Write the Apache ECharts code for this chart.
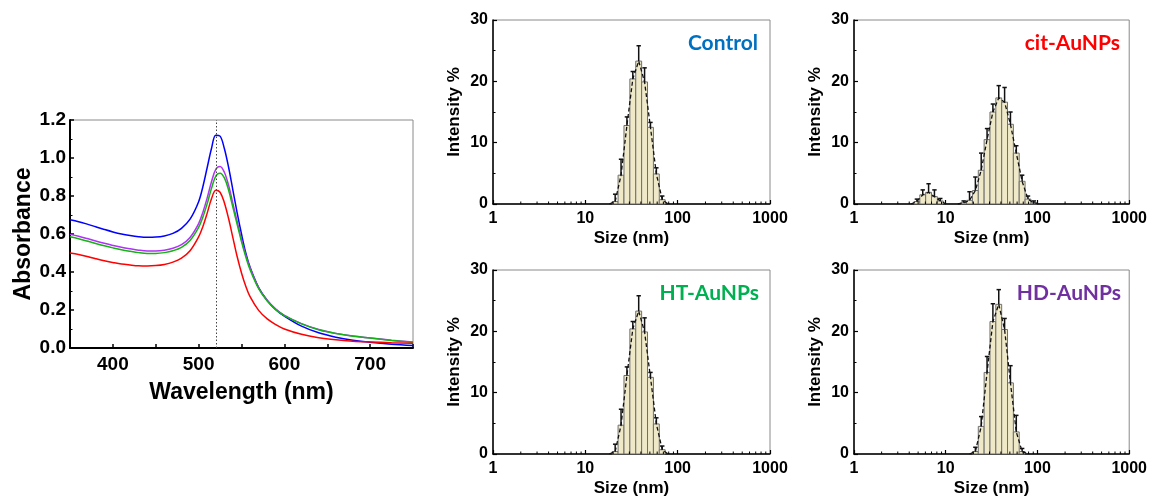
<!DOCTYPE html>
<html><head><meta charset="utf-8">
<script src="https://cdn.jsdelivr.net/npm/echarts@6/dist/echarts.min.js"></script>
<style>html,body{margin:0;padding:0;background:#fff}#c{width:1150px;height:498px}</style>
</head><body><div id="c"></div>
<script>
// ---------- UV-Vis data ----------
const wavelengths = [350,360,370,380,390,400,410,420,430,440,450,460,470,480,490,
  500,505,510,515,520,525,530,535,540,545,550,555,560,
  570,580,590,600,620,640,660,680,700,725,750];
const absControl = [0.675,0.665,0.652,0.638,0.624,0.611,0.600,0.592,0.586,0.583,0.584,0.590,0.603,0.630,0.678,
  0.770,0.850,0.950,1.050,1.120,1.115,1.050,0.950,0.830,0.710,0.600,0.500,0.425,
  0.318,0.250,0.202,0.168,0.115,0.080,0.057,0.041,0.030,0.020,0.013];
const absCit = [0.500,0.492,0.482,0.470,0.459,0.450,0.442,0.437,0.433,0.432,0.434,0.440,0.452,0.473,0.512,
  0.585,0.640,0.710,0.785,0.830,0.820,0.765,0.680,0.580,0.480,0.395,0.325,0.270,
  0.198,0.153,0.123,0.100,0.072,0.054,0.043,0.036,0.032,0.028,0.025];
const absHT = [0.585,0.575,0.563,0.550,0.538,0.527,0.517,0.509,0.502,0.498,0.498,0.502,0.512,0.530,0.566,
  0.635,0.690,0.760,0.840,0.905,0.920,0.895,0.830,0.740,0.650,0.560,0.480,0.412,
  0.312,0.247,0.202,0.170,0.127,0.096,0.076,0.062,0.052,0.040,0.030];
const absHD = [0.598,0.588,0.576,0.563,0.551,0.540,0.530,0.522,0.515,0.511,0.511,0.515,0.525,0.544,0.582,
  0.655,0.715,0.790,0.875,0.940,0.955,0.925,0.855,0.760,0.665,0.570,0.490,0.422,
  0.317,0.252,0.205,0.172,0.128,0.097,0.077,0.063,0.053,0.041,0.031];
const peakWavelength = 520;

// ---------- DLS data ----------
const dlsSizes = [4.187,4.849,5.615,6.503,7.531,8.721,10.10,11.70,13.54,15.69,18.17,21.04,24.36,28.21,32.67,37.84,43.82,50.75,58.77,68.06,78.82,91.28,105.7];
const controlIntensity = [0,0,0,0,0,0,0,0,0,0,0,0.4,4.7,12.8,20.4,23.3,19.9,12.5,4.9,0.7,0,0,0];
const controlError     = [0,0,0,0,0,0,0,0,0,0,0,1.2,2.6,1.4,1.2,2.5,2.3,0.8,1.0,0.6,0,0,0];
const citIntensity = [0,0.4,1.5,1.9,1.2,0.5,0,0,0,0.2,0.6,2.2,5.5,10.5,15.0,17.3,16.6,13.0,8.3,3.7,0.8,0.2,0];
const citError     = [0,0.4,0.8,1.4,1.1,0.4,0,0,0,0.3,1.4,2.2,2.8,1.8,1.3,2.0,2.4,2.0,1.2,1.0,0.5,0.3,0];
const htIntensity = [0,0,0,0,0,0,0,0,0,0,0,0.4,4.7,12.8,20.4,23.3,19.9,12.5,4.9,0.7,0,0,0];
const htError     = [0,0,0,0,0,0,0,0,0,0,0,1.2,2.6,1.4,1.2,2.5,2.3,0.8,1.0,0.6,0,0,0];
const hdIntensity = [0,0,0,0,0,0,0,0,0,0,0,0.4,4.5,13.3,21.6,24.4,20.3,11.6,3.6,0.4,0,0,0];
const hdError     = [0,0,0,0,0,0,0,0,0,0,0,0.7,1.6,2.6,2.9,2.4,1.8,2.8,2.7,0.5,0,0,0];
const logMinorTicks = [2,3,4,5,6,7,8,9,20,30,40,50,60,70,80,90,200,300,400,500,600,700,800,900];
const panelTitles = ['Control','cit-AuNPs','HT-AuNPs','HD-AuNPs'];

const chart = echarts.init(document.getElementById('c'), null, {renderer:'canvas'});
const AX_FONT = "'Liberation Sans', Arial, sans-serif";
const halfBin = Math.sqrt(dlsSizes[1]/dlsSizes[0]);

const grids = [
  {left:70, top:120, width:343, height:228},
  {left:493, top:20, width:277, height:184},
  {left:854, top:20, width:277, height:184},
  {left:493, top:270, width:277, height:184},
  {left:854, top:270, width:277, height:184}
].map(g => Object.assign({show:true, borderColor:'#8a8a8a', borderWidth:1, containLabel:false}, g));

const xAxes = [{
  type:'value', gridIndex:0, min:350, max:750, interval:50,
  axisLine:{lineStyle:{color:'#000', width:2}},
  axisTick:{inside:true, length:4, lineStyle:{color:'#000', width:1.5}},
  axisLabel:{margin:7, fontSize:19, fontWeight:'bold', color:'#000', fontFamily:AX_FONT,
    formatter: v => (v % 100 === 0 ? String(v) : '')},
  splitLine:{show:false},
  name:'Wavelength (nm)', nameLocation:'middle', nameGap:33,
  nameTextStyle:{fontSize:23, fontWeight:'bold', color:'#000', fontFamily:AX_FONT}
}];
const yAxes = [{
  type:'value', gridIndex:0, min:0, max:1.2, interval:0.2,
  axisLine:{show:true, lineStyle:{color:'#000', width:2}},
  axisTick:{show:true, inside:true, length:4, lineStyle:{color:'#000', width:1.5}},
  minorTick:{show:true, splitNumber:2, length:2.5, lineStyle:{color:'#000', width:1}},
  axisLabel:{margin:4, fontSize:19, fontWeight:'bold', color:'#000', fontFamily:AX_FONT,
    formatter: v => v.toFixed(1)},
  splitLine:{show:false},
  name:'Absorbance', nameLocation:'middle', nameGap:35,
  nameTextStyle:{fontSize:23, fontWeight:'bold', color:'#000', fontFamily:AX_FONT}
}];
for (let i = 1; i <= 4; i++) {
  xAxes.push({
    type:'log', logBase:10, gridIndex:i, min:1, max:1000,
    axisLine:{lineStyle:{color:'#000', width:1.5}},
    axisTick:{inside:true, length:4, lineStyle:{color:'#000', width:1.2}},
    axisLabel:{margin:7, fontSize:16, fontWeight:'bold', color:'#000', fontFamily:AX_FONT,
      formatter: v => String(Math.round(v))},
    splitLine:{show:false},
    name:'Size (nm)', nameLocation:'middle', nameGap:26,
    nameTextStyle:{fontSize:17, fontWeight:'bold', color:'#000', fontFamily:AX_FONT}
  });
  yAxes.push({
    type:'value', gridIndex:i, min:0, max:30, interval:10,
    axisLine:{show:true, lineStyle:{color:'#000', width:1.5}},
    axisTick:{show:true, inside:true, length:4, lineStyle:{color:'#000', width:1.2}},
    minorTick:{show:true, splitNumber:2, length:2.5, lineStyle:{color:'#000', width:1}},
    axisLabel:{margin:5, fontSize:16, fontWeight:'bold', color:'#000', fontFamily:AX_FONT},
    splitLine:{show:false},
    name:'Intensity %', nameLocation:'middle', nameGap:30,
    nameTextStyle:{fontSize:17, fontWeight:'bold', color:'#000', fontFamily:AX_FONT}
  });
}

const series = [];
const uvSets = [
  {name:'Control', data:absControl, color:'#0000ff'},
  {name:'HD-AuNPs', data:absHD, color:'#b032f5'},
  {name:'HT-AuNPs', data:absHT, color:'#14b414'},
  {name:'cit-AuNPs', data:absCit, color:'#ff0000'}
];
uvSets.forEach((s, k) => {
  const ser = {
    type:'line', name:s.name, xAxisIndex:0, yAxisIndex:0,
    data: wavelengths.map((w, i) => [w, s.data[i]]),
    smooth:0.35, showSymbol:false, symbol:'none',
    lineStyle:{color:s.color, width:1.5}, z:3
  };
  if (k === 0) {
    ser.markLine = {
      silent:true, symbol:['none','none'], label:{show:false},
      lineStyle:{type:[1.5,2], color:'#444', width:1},
      data:[{xAxis: peakWavelength}]
    };
  }
  series.push(ser);
});

function barRender(params, api) {
  const s = api.value(0), v = api.value(1);
  if (!(v > 0)) return null;
  const p0 = api.coord([s / halfBin, 0]);
  const p1 = api.coord([s * halfBin, v]);
  return {type:'rect', shape:{x:p0[0], y:p1[1], width:p1[0]-p0[0], height:p0[1]-p1[1]},
    style:{fill:'#efe9c8', stroke:'#6e6e6e', lineWidth:1}};
}
function errRender(params, api) {
  const s = api.value(0), v = api.value(1), e = api.value(2);
  if (!(e > 0) || !(v > 0)) return null;
  const b = api.coord([s, v]), t = api.coord([s, v + e]);
  return {type:'group', children:[
    {type:'line', shape:{x1:b[0], y1:b[1], x2:t[0], y2:t[1]}, style:{stroke:'#111', lineWidth:1.5}},
    {type:'line', shape:{x1:t[0]-2.2, y1:t[1], x2:t[0]+2.2, y2:t[1]}, style:{stroke:'#111', lineWidth:1.5}}
  ]};
}
function minorRender(params, api) {
  const p = api.coord([api.value(0), 0]);
  return {type:'line', shape:{x1:p[0], y1:p[1], x2:p[0], y2:p[1]-2.5}, style:{stroke:'#000', lineWidth:1}};
}

const dlsSets = [
  {vals:controlIntensity, errs:controlError},
  {vals:citIntensity, errs:citError},
  {vals:htIntensity, errs:htError},
  {vals:hdIntensity, errs:hdError}
];
dlsSets.forEach((d, k) => {
  const ax = k + 1;
  const rows = dlsSizes.map((s, i) => [s, d.vals[i], d.errs[i]]);
  series.push({type:'custom', xAxisIndex:ax, yAxisIndex:ax, renderItem:barRender,
    data:rows, encode:{x:0, y:1}, z:2, silent:true});
  const lineData = dlsSizes.map((s, i) => {
    const prev = i > 0 ? d.vals[i-1] : 0, next = i < dlsSizes.length - 1 ? d.vals[i+1] : 0;
    return (d.vals[i] > 0 || prev > 0 || next > 0) ? [s, d.vals[i]] : [s, null];
  });
  series.push({type:'line', xAxisIndex:ax, yAxisIndex:ax, data:lineData, connectNulls:false,
    showSymbol:false, symbol:'none', smooth:false,
    lineStyle:{color:'#111', width:1.3, type:[4,2.5]}, z:4, silent:true});
  series.push({type:'custom', xAxisIndex:ax, yAxisIndex:ax, renderItem:errRender,
    data:rows, encode:{x:0, y:1}, z:5, silent:true});
  series.push({type:'custom', xAxisIndex:ax, yAxisIndex:ax, renderItem:minorRender,
    data:logMinorTicks.map(v => [v, 0]), encode:{x:0, y:1}, z:6, silent:true});
});

const titleColors = ['#0070c0', '#ff0000', '#00b050', '#7030a0'];
const titlePos = [[758, 43], [1120, 43], [759, 293], [1121, 293]];
const graphics = panelTitles.map((t, k) => ({
  type:'text', x:titlePos[k][0], y:titlePos[k][1], z:10,
  style:{text:t, fill:titleColors[k], font:"bold 21px Lato, 'Open Sans', sans-serif",
    textAlign:'right', textVerticalAlign:'middle'}
}));

chart.setOption({
  animation:false,
  backgroundColor:'#ffffff',
  grid:grids, xAxis:xAxes, yAxis:yAxes, series:series, graphic:graphics
});
</script>
</body></html>
